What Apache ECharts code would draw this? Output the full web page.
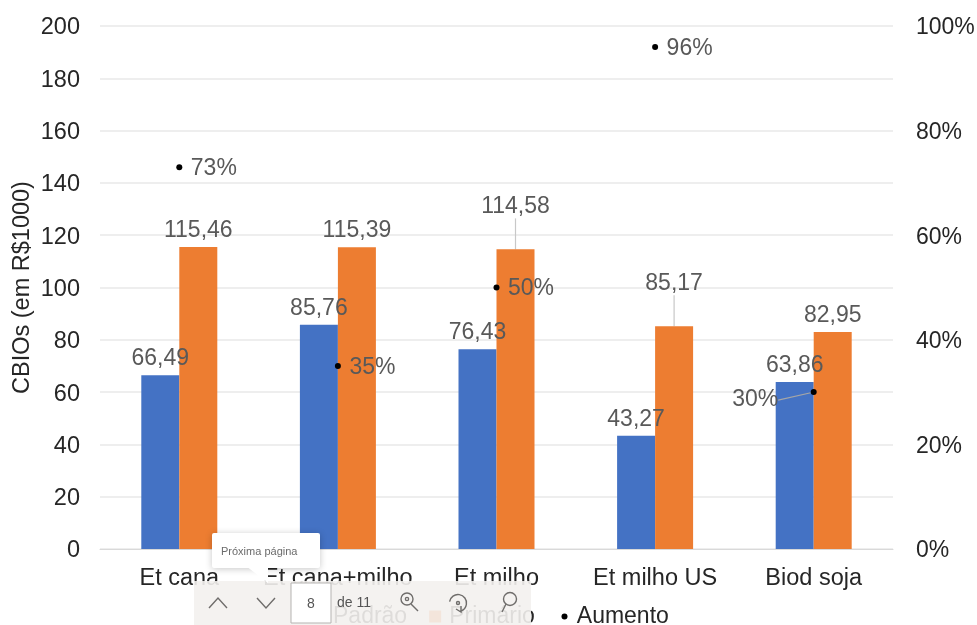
<!DOCTYPE html>
<html>
<head>
<meta charset="utf-8">
<style>html,body{margin:0;padding:0;background:#fff}#c{width:977px;height:625px}</style>
<script src="https://cdn.jsdelivr.net/npm/echarts@6/dist/echarts.min.js"></script>
</head>
<body>
<div id="c"></div>
<script>
const categories = ['Et cana', 'Et cana+milho', 'Et milho', 'Et milho US', 'Biod soja'];
const padrao = [66.49, 85.76, 76.43, 43.27, 63.86];
const primario = [115.46, 115.39, 114.58, 85.17, 82.95];
const aumento = [73, 35, 50, 96, 30];

const FONT = '"Liberation Sans", Arial, sans-serif';
const fmt = v => v.toFixed(2).replace('.', ',');
const chrome = '#6f6d6b';
const labelGrey = '#595959';
const tickInk = '#262626';

const chart = echarts.init(document.getElementById('c'), null, { renderer: 'canvas' });

// Page navigation bar laid over the bottom of the report
const stroke = (shape, type = 'polyline', width = 1.4) => ({
  type, z: 102, shape, style: { fill: null, stroke: chrome, lineWidth: width }
});
const toolbar = [
  { type: 'rect', z: 100, shape: { x: 194, y: 581, width: 337, height: 44 },
    style: { fill: 'rgba(243,241,238,0.9)' } },
  stroke({ points: [[209, 608], [218, 598], [227, 608]] }),
  stroke({ points: [[257, 598], [266, 608], [275, 598]] }),
  { type: 'rect', z: 101, shape: { x: 291, y: 583, width: 40, height: 40 },
    style: { fill: '#fff', stroke: '#b5b3b1', lineWidth: 1 } },
  { type: 'text', z: 102, style: { x: 311, y: 604, text: '8', fill: '#555', font: '14px ' + FONT,
    align: 'center', verticalAlign: 'middle' } },
  { type: 'text', z: 102, style: { x: 337, y: 603, text: 'de 11', fill: '#555', font: '14px ' + FONT,
    verticalAlign: 'middle' } },
  stroke({ cx: 407, cy: 599, r: 6 }, 'circle'),
  stroke({ points: [[411, 604], [418, 611]] }),
  stroke({ cx: 407, cy: 599, r: 1.6 }, 'circle'),
  stroke({ cx: 458, cy: 603, r: 8.5, startAngle: -Math.PI * 0.95, endAngle: Math.PI * 0.4, clockwise: true }, 'arc'),
  stroke({ cx: 458, cy: 603, r: 1.5 }, 'circle'),
  stroke({ points: [[461, 606], [461, 612], [456, 609]] }),
  stroke({ cx: 510, cy: 599, r: 6.5 }, 'circle'),
  stroke({ points: [[506, 604], [502, 612]] }),
  { type: 'polygon', z: 104, shape: { points: [[246, 566], [268, 566], [268, 583]] },
    style: { fill: '#fff' } },
  { type: 'rect', z: 103, shape: { x: 212, y: 533, width: 108, height: 35, r: 2 },
    style: { fill: '#fff', shadowBlur: 7, shadowColor: 'rgba(0,0,0,0.22)', shadowOffsetY: 1 } },
  { type: 'text', z: 105, style: { x: 221, y: 552, text: 'Próxima página', fill: '#6b6b6b',
    font: '11px ' + FONT, verticalAlign: 'middle' } }
];

const barLabel = { show: true, position: 'top', distance: 5, color: labelGrey, opacity: 1,
  fontFamily: FONT, fontSize: 23, formatter: p => fmt(p.value) };

// Two of the orange labels sit higher, tied to their bars by a leader line
const primarioLift = [0, 0, -26, -26, 0];
const primarioItems = primario.map((value, i) => ({
  value, labelLine: { show: primarioLift[i] !== 0 }
}));

// The last percentage moves left of its dot and keeps a leader line
const aumentoItems = aumento.map((value, i) => ({
  value,
  label: { position: i === 4 ? 'left' : 'right' },
  labelLine: { show: i === 4 }
}));

chart.setOption({
  animation: false,
  backgroundColor: '#fff',
  textStyle: { fontFamily: FONT },
  grid: { left: 100, right: 84, top: 26, bottom: 76, containLabel: false, outerBoundsMode: 'none' },
  legend: {
    left: 308, top: 600, itemWidth: 12, itemHeight: 12, itemGap: 22,
    textStyle: { fontFamily: FONT, fontSize: 23, color: tickInk, padding: [0, 0, 0, 3] },
    data: [
      { name: 'Padrão', icon: 'rect' },
      { name: 'Primário', icon: 'rect' },
      // Small dot inside the legend box, kept to size by zero-length corner segments
      { name: 'Aumento', icon: 'path://M0 0L0 0M14 14L14 14M12.5 7A3.5 3.5 0 1 1 5.5 7A3.5 3.5 0 1 1 12.5 7Z',
        itemStyle: { color: '#000' } }
    ]
  },
  xAxis: {
    type: 'category', data: categories,
    axisTick: { show: false },
    axisLine: { lineStyle: { color: '#d9d9d9', width: 1 } },
    axisLabel: { color: tickInk, fontSize: 23.5, fontFamily: FONT, margin: 18, interval: 0 }
  },
  yAxis: [
    {
      type: 'value', min: 0, max: 200, interval: 20,
      name: 'CBIOs (em R$1000)', nameLocation: 'middle', nameGap: 65, nameRotate: 90,
      nameMoveOverlap: false,
      nameTextStyle: { color: tickInk, fontSize: 23.5, fontFamily: FONT },
      axisLine: { show: false }, axisTick: { show: false },
      axisLabel: { color: tickInk, fontSize: 23.5, fontFamily: FONT, margin: 20,
        verticalAlign: 'top', lineHeight: 4 },
      splitLine: { lineStyle: { color: '#e8e8e8', width: 1.5 } }
    },
    {
      type: 'value', min: 0, max: 100, interval: 20, position: 'right',
      axisLine: { show: false }, axisTick: { show: false }, splitLine: { show: false },
      axisLabel: { color: tickInk, fontSize: 23, fontFamily: FONT, margin: 23,
        verticalAlign: 'top', lineHeight: 4, formatter: '{value}%' }
    }
  ],
  graphic: { elements: toolbar },
  series: [
    {
      name: 'Padrão', type: 'bar', data: padrao, barWidth: 38, barGap: 0,
      itemStyle: { color: '#4472c4' },
      label: barLabel,
      z: 3
    },
    {
      name: 'Primário', type: 'bar', data: primarioItems, barWidth: 38, barGap: 0,
      itemStyle: { color: '#ed7d31' },
      label: barLabel,
      labelLine: { lineStyle: { color: '#c8c8c8', width: 1.2 } },
      labelLayout: p => ({ dy: primarioLift[p.dataIndex] }),
      z: 3
    },
    {
      name: 'Aumento', type: 'scatter', yAxisIndex: 1, data: aumentoItems,
      symbol: 'circle', symbolSize: 6,
      itemStyle: { color: '#000', opacity: 1 },
      label: { show: true, distance: 8.5, color: labelGrey, opacity: 1,
        fontFamily: FONT, fontSize: 23, formatter: p => p.value + '%' },
      labelLine: { lineStyle: { color: '#a6a6a6', width: 1.2 } },
      labelLayout: p => p.dataIndex === 4 ? { dx: -24, dy: 8 } : { dy: 1.5 },
      z: 5
    }
  ]
});
</script>
</body>
</html>
